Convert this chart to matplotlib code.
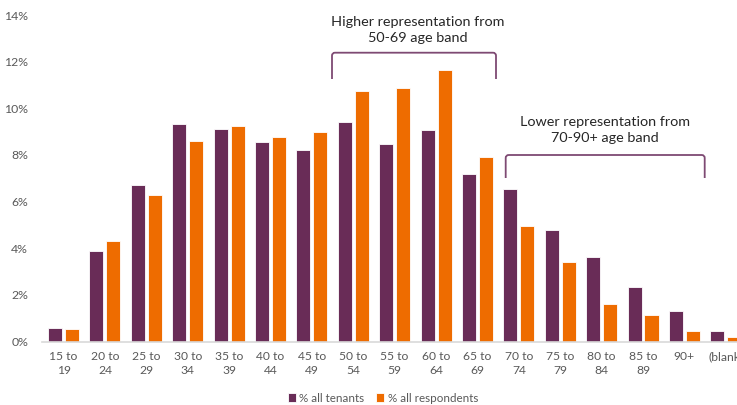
import numpy as np
import matplotlib.pyplot as plt
from matplotlib.path import Path
from matplotlib.patches import PathPatch

# age bands and shares (%)
age_bands = ['15 to\n19', '20 to\n24', '25 to\n29', '30 to\n34', '35 to\n39', '40 to\n44',
             '45 to\n49', '50 to\n54', '55 to\n59', '60 to\n64', '65 to\n69', '70 to\n74',
             '75 to\n79', '80 to\n84', '85 to\n89', '90+', '(blank)']
all_tenants = [0.56, 3.89, 6.70, 9.34, 9.12, 8.54, 8.22, 9.42, 8.49, 9.07, 7.18, 6.55,
               4.77, 3.62, 2.35, 1.32, 0.45]
all_respondents = [0.52, 4.29, 6.30, 8.60, 9.23, 8.77, 8.97, 10.74, 10.85, 11.66, 7.92, 4.95,
                   3.40, 1.61, 1.15, 0.45, 0.18]
y_ticks = [0, 2, 4, 6, 8, 10, 12, 14]

purple = '#692C57'
orange = '#EE6C00'
bracket_col = '#7E4A73'
grey_txt = '#595959'

plt.rcParams['font.family'] = ['Lato', 'DejaVu Sans']

fig = plt.figure(figsize=(7.37, 4.05), dpi=100)
ax = fig.add_axes([42 / 737, 1 - 341.5 / 405, 1 - 42 / 737, (341.5 - 15) / 405])

x = np.arange(len(age_bands))
w = 0.34
ax.bar(x - 0.205, all_tenants, w, color=purple, edgecolor='white', linewidth=0.6,
       label='% all tenants')
ax.bar(x + 0.205, all_respondents, w, color=orange, edgecolor='white', linewidth=0.6,
       label='% all respondents')

ax.set_xlim(-0.52, 16.27)
ax.set_ylim(0, 14)
ax.set_yticks(y_ticks)
ax.set_yticklabels([f'{t}%' for t in y_ticks], fontsize=8.8, color=grey_txt)
ax.set_xticks(x)
ax.set_xticklabels(age_bands, fontsize=8.7, color=grey_txt, linespacing=1.3)
ax.tick_params(axis='both', length=0)
ax.tick_params(axis='x', pad=7)
ax.tick_params(axis='y', pad=10)

for s in ['top', 'right', 'left']:
    ax.spines[s].set_visible(False)
ax.spines['bottom'].set_color('#D9D9D9')
ax.spines['bottom'].set_linewidth(1.2)


# bracket over a group of bars, in pixel coords of the figure
def bracket(x0, x1, ytop, ybot):
    H = 405.0
    r = 3.0
    verts = [(x0, ybot), (x0, ytop + r), (x0, ytop), (x0 + r, ytop),
             (x1 - r, ytop), (x1, ytop), (x1, ytop + r), (x1, ybot)]
    codes = [Path.MOVETO, Path.LINETO, Path.CURVE3, Path.CURVE3,
             Path.LINETO, Path.CURVE3, Path.CURVE3, Path.LINETO]
    verts = [(vx / 737, 1 - vy / H) for vx, vy in verts]
    fig.add_artist(PathPatch(Path(verts, codes), transform=fig.transFigure,
                             fill=False, edgecolor=bracket_col, linewidth=1.3))


bracket(332, 496, 52.7, 79)
bracket(505.7, 704.7, 155, 178)

fig.text(418 / 737, 1 - 30 / 405, 'Higher representation from\n50-69 age band',
         ha='center', va='center', fontsize=10.4, color='#262626', linespacing=1.4)
fig.text(605 / 737, 1 - 130 / 405, 'Lower representation from\n70-90+ age band',
         ha='center', va='center', fontsize=10.4, color='#262626', linespacing=1.4)

fig.legend(loc='center', bbox_to_anchor=(383 / 737, 1 - 398 / 405), ncol=2,
           frameon=False, fontsize=8.4, handlelength=0.7, handleheight=0.7,
           handletextpad=0.3, columnspacing=1.0, labelcolor=grey_txt)

fig.savefig('out.png', dpi=100)
